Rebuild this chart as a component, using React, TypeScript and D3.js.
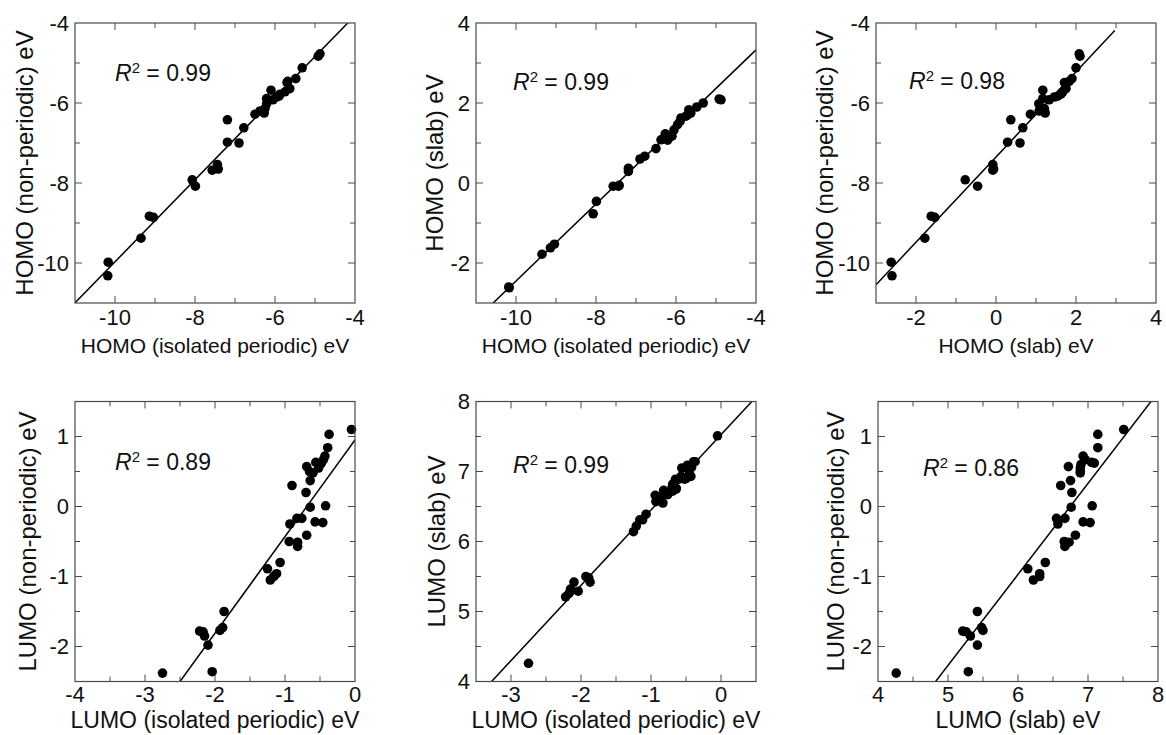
import React from 'react';
import * as d3 from 'd3';

// ---------- DATA ----------
// HOMO energies (eV) for each molecule
const homoIso = [-10.17, -10.18, -9.35, -9.14, -9.04, -8.07, -7.99, -7.57, -7.44, -7.42, -7.19, -7.19, -6.9, -6.78, -6.5, -6.375, -6.27, -6.25, -6.21, -6.21, -6.1, -5.96, -5.875, -5.75, -5.63, -5.68, -5.48, -5.32, -4.875, -4.92, -6.05, -5.9, -5.7];
const homoNonper = [-9.98, -10.32, -9.38, -8.83, -8.86, -7.92, -8.08, -7.68, -7.54, -7.65, -6.42, -6.98, -7.0, -6.62, -6.28, -6.2, -6.25, -6.14, -6.02, -5.89, -5.68, -5.85, -5.78, -5.72, -5.64, -5.46, -5.39, -5.12, -4.77, -4.83, -5.92, -5.83, -5.49];
const homoSlab = [-2.62, -2.6, -1.78, -1.62, -1.53, -0.77, -0.46, -0.08, -0.08, -0.06, 0.37, 0.29, 0.6, 0.67, 0.86, 1.08, 1.23, 1.21, 1.07, 1.17, 1.17, 1.46, 1.625, 1.67, 1.75, 1.83, 1.9, 2.0, 2.08, 2.1, 1.33, 1.54, 1.71];

// LUMO energies (eV) for each molecule
const lumoIso = [-2.75, -2.22, -2.17, -2.15, -2.1, -2.04, -1.93, -1.89, -1.87, -1.25, -1.21, -1.16, -1.12, -1.07, -0.94, -0.82, -0.82, -0.69, -0.93, -0.46, -0.57, -0.83, -0.76, -0.64, -0.42, -0.7, -0.9, -0.64, -0.6, -0.65, -0.52, -0.69, -0.5, -0.48, -0.56, -0.45, -0.43, -0.39, -0.37, -0.05];
const lumoNonper = [-2.38, -1.78, -1.79, -1.85, -1.98, -2.36, -1.77, -1.73, -1.5, -0.89, -1.05, -1.0, -0.96, -0.8, -0.5, -0.51, -0.57, -0.41, -0.25, -0.23, -0.22, -0.17, -0.17, -0.01, 0.01, 0.2, 0.3, 0.37, 0.48, 0.5, 0.55, 0.57, 0.6, 0.62, 0.63, 0.67, 0.72, 0.84, 1.03, 1.1];
const lumoSlab = [4.26, 5.21, 5.26, 5.32, 5.42, 5.29, 5.5, 5.48, 5.42, 6.14, 6.22, 6.31, 6.31, 6.39, 6.66, 6.73, 6.67, 6.82, 6.57, 7.03, 6.93, 6.55, 6.67, 6.76, 7.06, 6.77, 6.61, 6.75, 6.89, 6.89, 6.89, 6.72, 6.9, 7.09, 7.05, 6.96, 6.93, 7.14, 7.14, 7.51];

// tick labels
const homoIsoTicks = [-10, -8, -6, -4];
const homoNonperTicks = [-10, -8, -6, -4];
const homoSlabYTicks = [-2, 0, 2, 4];
const homoSlabXTicks = [-2, 0, 2, 4];
const lumoIsoTicksA = [-4, -3, -2, -1, 0];
const lumoIsoTicksB = [-3, -2, -1, 0];
const lumoNonperTicks = [-2, -1, 0, 1];
const lumoSlabTicks = [4, 5, 6, 7, 8];

// R^2 values and linear fits (slope, intercept)
const r2Values = ['0.99', '0.99', '0.98', '0.89', '0.99', '0.86'];
const fitSlopes = [1.026, 0.963, 1.065, 1.38, 1.076, 1.3];
const fitIntercepts = [0.29, 7.18, -7.35, 0.95, 7.526, -8.77];

// ---------- LAYOUT ----------
const W = 1166;
const H = 735;
const PW = 280;
const PH = 280;
const FONT = 'Liberation Sans, Arial, Helvetica, sans-serif';

type Panel = {
  xs: number[];
  ys: number[];
  xDomain: [number, number];
  yDomain: [number, number];
  xTicks: number[];
  yTicks: number[];
  xMinorStep: number;
  yMinorStep: number;
  xTitle: string;
  yTitle: string;
  fitIdx: number;
  fitXMax?: number;
  left: number;
  top: number;
  yTitleOff: number;
  xTitleOff: number;
  xTitleSize: number;
  xTickOff: number;
  r2Pos: [number, number];
};

const panels: Panel[] = [
  {
    xs: homoIso, ys: homoNonper, xDomain: [-11, -4], yDomain: [-11, -4],
    xTicks: homoIsoTicks, yTicks: homoNonperTicks, xMinorStep: 1, yMinorStep: 1,
    xTitle: 'HOMO (isolated periodic) eV', yTitle: 'HOMO (non-periodic) eV',
    fitIdx: 0, left: 75, top: 23, yTitleOff: 42, xTitleOff: 50, xTitleSize: 21, xTickOff: 22, r2Pos: [40, 58],
  },
  {
    xs: homoIso, ys: homoSlab, xDomain: [-11, -4], yDomain: [-3, 4],
    xTicks: homoIsoTicks, yTicks: homoSlabYTicks, xMinorStep: 1, yMinorStep: 1,
    xTitle: 'HOMO (isolated periodic) eV', yTitle: 'HOMO (slab) eV',
    fitIdx: 1, left: 476, top: 23, yTitleOff: 33, xTitleOff: 50, xTitleSize: 21, xTickOff: 22, r2Pos: [37, 67],
  },
  {
    xs: homoSlab, ys: homoNonper, xDomain: [-3, 4], yDomain: [-11, -4],
    xTicks: homoSlabXTicks, yTicks: homoNonperTicks, xMinorStep: 1, yMinorStep: 1,
    xTitle: 'HOMO (slab) eV', yTitle: 'HOMO (non-periodic) eV',
    fitIdx: 2, fitXMax: 2.97, left: 876, top: 23, yTitleOff: 43, xTitleOff: 50, xTitleSize: 21, xTickOff: 22, r2Pos: [33, 66],
  },
  {
    xs: lumoIso, ys: lumoNonper, xDomain: [-4, 0], yDomain: [-2.5, 1.5],
    xTicks: lumoIsoTicksA, yTicks: lumoNonperTicks, xMinorStep: 0.5, yMinorStep: 0.5,
    xTitle: 'LUMO (isolated periodic) eV', yTitle: 'LUMO (non-periodic) eV',
    fitIdx: 3, left: 75, top: 401.5, yTitleOff: 39, xTitleOff: 46, xTitleSize: 23, xTickOff: 20.5, r2Pos: [40, 68],
  },
  {
    xs: lumoIso, ys: lumoSlab, xDomain: [-3.5, 0.5], yDomain: [4, 8],
    xTicks: lumoIsoTicksB, yTicks: lumoSlabTicks, xMinorStep: 0.5, yMinorStep: 0.5,
    xTitle: 'LUMO (isolated periodic) eV', yTitle: 'LUMO (slab) eV',
    fitIdx: 4, left: 476, top: 401.5, yTitleOff: 31, xTitleOff: 46, xTitleSize: 23, xTickOff: 20.5, r2Pos: [37, 71],
  },
  {
    xs: lumoSlab, ys: lumoNonper, xDomain: [4, 8], yDomain: [-2.5, 1.5],
    xTicks: lumoSlabTicks, yTicks: lumoNonperTicks, xMinorStep: 0.5, yMinorStep: 0.5,
    xTitle: 'LUMO (slab) eV', yTitle: 'LUMO (non-periodic) eV',
    fitIdx: 5, left: 878, top: 401.5, yTitleOff: 34, xTitleOff: 46, xTitleSize: 23, xTickOff: 20.5, r2Pos: [45, 74],
  },
];

const AXIS = '#4a4a4a';
const MAJOR = 7;
const MINOR = 5;
const TICK_FONT = 22;
const Y_TITLE_FONT = 24;
const R2_FONT = 23;

function PanelView({ p, i }: { p: Panel; i: number }) {
  const x = d3.scaleLinear().domain(p.xDomain).range([0, PW]);
  const y = d3.scaleLinear().domain(p.yDomain).range([PH, 0]);
  const eps = 1e-6;
  const xAll = d3.range(p.xDomain[0], p.xDomain[1] + eps, p.xMinorStep)
    .filter((v) => v > p.xDomain[0] + eps && v < p.xDomain[1] - eps);
  const yAll = d3.range(p.yDomain[0], p.yDomain[1] + eps, p.yMinorStep)
    .filter((v) => v > p.yDomain[0] + eps && v < p.yDomain[1] - eps);
  const isMajor = (arr: number[], v: number) => arr.some((t) => Math.abs(t - v) < eps);

  const slope = fitSlopes[p.fitIdx];
  const icpt = fitIntercepts[p.fitIdx];
  const fx0 = p.xDomain[0];
  const fx1 = p.fitXMax ?? p.xDomain[1];
  const fitPts: [number, number][] = [fx0, fx1].map((v) => [x(v), y(slope * v + icpt)]);
  const linePath = d3.line()(fitPts) || '';
  const clipId = `clip-${i}`;
  const fmt = (v: number) => String(v);

  return (
    <g transform={`translate(${p.left},${p.top})`}>
      <defs>
        <clipPath id={clipId}>
          <rect x={0} y={0} width={PW} height={PH} />
        </clipPath>
      </defs>
      {/* ticks */}
      {xAll.map((v) => {
        const L = isMajor(p.xTicks, v) ? MAJOR : MINOR;
        return (
          <g key={`xt${v}`} stroke={AXIS} strokeWidth={1}>
            <line x1={x(v)} x2={x(v)} y1={PH} y2={PH - L} />
            <line x1={x(v)} x2={x(v)} y1={0} y2={L} />
          </g>
        );
      })}
      {yAll.map((v) => {
        const L = isMajor(p.yTicks, v) ? MAJOR : MINOR;
        return (
          <g key={`yt${v}`} stroke={AXIS} strokeWidth={1}>
            <line x1={0} x2={L} y1={y(v)} y2={y(v)} />
            <line x1={PW} x2={PW - L} y1={y(v)} y2={y(v)} />
          </g>
        );
      })}
      {/* fit line and points */}
      <g clipPath={`url(#${clipId})`}>
        <path d={linePath} stroke="#000" strokeWidth={1.5} fill="none" />
      </g>
      {p.xs.map((xv, k) => (
        <circle key={k} cx={x(xv)} cy={y(p.ys[k])} r={4.8} fill="#000" />
      ))}
      <rect x={0} y={0} width={PW} height={PH} fill="none" stroke={AXIS} strokeWidth={1.2} />
      {/* tick labels */}
      {p.xTicks.map((v) => (
        <text key={`xl${v}`} x={x(v)} y={PH + p.xTickOff} textAnchor="middle" fontSize={TICK_FONT} fontFamily={FONT} fill="#111">
          {fmt(v)}
        </text>
      ))}
      {p.yTicks.map((v) => (
        <text key={`yl${v}`} x={-6} y={y(v)} dy="0.36em" textAnchor="end" fontSize={TICK_FONT} fontFamily={FONT} fill="#111">
          {fmt(v)}
        </text>
      ))}
      {/* titles */}
      <text x={PW / 2} y={PH + p.xTitleOff} textAnchor="middle" fontSize={p.xTitleSize} fontFamily={FONT} fill="#111">
        {p.xTitle}
      </text>
      <text
        transform={`translate(${-p.yTitleOff},${PH / 2}) rotate(-90)`}
        textAnchor="middle"
        fontSize={Y_TITLE_FONT}
        fontFamily={FONT}
        fill="#111"
      >
        {p.yTitle}
      </text>
      {/* R^2 */}
      <text x={p.r2Pos[0]} y={p.r2Pos[1]} fontSize={R2_FONT} fontFamily={FONT} fill="#111">
        <tspan fontStyle="italic">R</tspan>
        <tspan fontSize={15} dy={-8}>2</tspan>
        <tspan dy={8}>{` = ${r2Values[i]}`}</tspan>
      </text>
    </g>
  );
}

export default function App() {
  return (
    <svg
      width={W}
      height={H}
      style={{ position: 'absolute', left: 0, top: 0, background: '#fff' }}
      xmlns="http://www.w3.org/2000/svg"
    >
      <rect x={0} y={0} width={W} height={H} fill="#fff" />
      {panels.map((p, i) => (
        <PanelView key={i} p={p} i={i} />
      ))}
    </svg>
  );
}
